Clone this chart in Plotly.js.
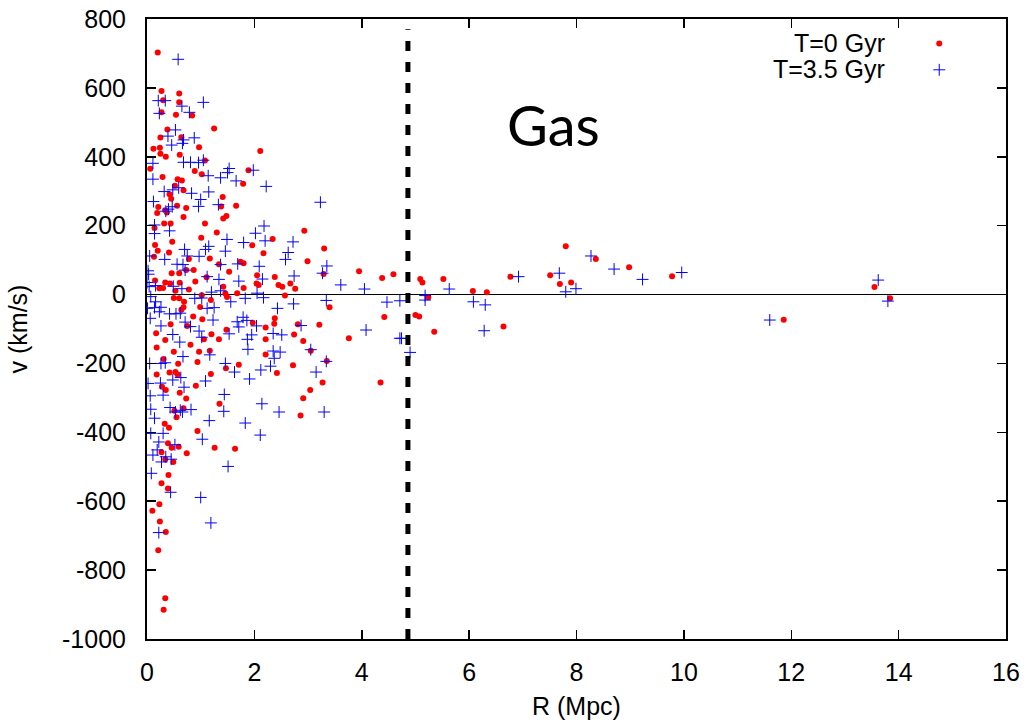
<!DOCTYPE html>
<html>
<head>
<meta charset="utf-8">
<script src="https://cdn.plot.ly/plotly-3.0.1.min.js"></script>
<style>html,body{margin:0;padding:0;background:#fff;}#chart{width:1030px;height:723px;}</style>
</head>
<body>
<div id="chart"></div>
<script>
// T=0 Gyr (red dots): radius R (Mpc) and velocity v (km/s)
const redR = [
0.20,0.27,0.60,0.30,0.60,0.27,0.54,0.84,1.25,0.38,0.25,0.64,0.97,0.12,0.24,2.11,0.25,0.35,0.61,1.08,
0.06,0.89,1.89,0.29,1.02,0.57,0.65,1.79,0.52,0.68,0.42,0.45,1.41,0.21,0.56,0.73,1.38,1.66,0.34,0.19,
0.37,0.68,1.48,1.42,
0.32,0.44,1.08,0.14,1.30,2.93,1.01,0.47,2.34,0.15,1.96,3.30,0.20,0.41,2.17,0.13,0.78,1.17,2.99,1.74,
1.80,1.34,0.87,0.46,0.60,0.73,1.53,2.05,0.15,0.34,0.43,0.61,0.90,1.11,2.38,2.04,2.08,2.45,2.52,2.67,
2.76,1.42,1.80,0.23,0.30,0.53,0.78,1.46,1.68,1.49,2.57,1.02,0.50,0.60,1.19,0.69,3.40,0.68,0.99,0.64,
0.86,1.03,2.38,1.97,0.44,0.75,2.37,2.81,3.21,2.21,1.48,0.17,1.20,2.74,0.34,1.06,1.34,2.21,2.91,0.81,
0.18,1.17,3.05,0.50,0.97,2.21,0.31,3.35,0.94,0.58,1.71,2.72,1.47,0.18,0.42,0.53,0.57,1.19,2.42,3.27,
0.91,0.28,0.35,3.04,0.61,0.73,2.91,1.35,0.51,0.68,2.86,0.55,
0.33,0.41,0.94,0.39,0.46,0.59,1.26,1.64,0.74,0.27,0.34,0.49,0.40,0.27,0.39,0.23,0.10,0.24,0.35,0.21,
0.34,0.31,
3.95,4.38,4.59,5.09,5.13,5.52,6.07,6.33,6.77,5.24,4.42,5.00,5.07,3.76,5.35,6.64,4.35,3.29,
7.51,7.80,7.69,7.90,8.36,8.98,9.78,
11.86,13.55,13.84
];
const redV = [
703,591,584,564,558,529,522,520,482,479,456,457,428,423,426,417,409,400,406,389,
365,359,361,341,349,335,331,322,316,303,291,278,283,254,258,251,256,258,245,237,
238,225,228,221,
206,206,206,193,180,185,165,153,161,144,143,134,127,122,120,110,103,105,97,95,
91,88,71,62,62,71,66,56,41,35,32,34,38,50,51,32,28,28,23,32,
17,23,19,18,19,11,15,3,4,-7,-3,-2,-10,-11,-16,-21,-37,-37,-36,-44,
-64,-72,-69,-82,-86,-91,-85,-86,-88,-96,-102,-112,-115,-116,-132,-130,-130,-130,-135,-146,
-154,-163,-163,-166,-166,-174,-187,-193,-196,-201,-204,-205,-214,-232,-226,-225,-232,-231,-228,-255,
-265,-268,-277,-277,-285,-302,-301,-317,-337,-330,-351,-356,
-375,-387,-396,-432,-445,-442,-445,-448,-461,-458,-478,-486,-524,-548,-563,-609,-628,-659,-689,-742,
-882,-915,
68,48,59,45,35,45,10,7,52,-8,-65,-59,-64,-127,-108,-93,-255,60,
56,140,31,35,103,79,53,
-73,22,-11
];
// T=3.5 Gyr (blue crosses)
const blueR = [
0.58,0.21,0.34,1.05,0.65,0.23,0.79,0.53,0.39,0.88,0.68,0.66,0.46,0.11,0.68,0.81,0.96,1.05,1.53,1.50,
1.98,0.11,1.14,1.37,1.66,2.22,0.32,0.48,0.59,0.83,1.15,0.12,1.00,3.23,0.47,0.96,1.33,0.40,0.35,
0.14,0.42,0.14,2.18,2.02,1.49,1.80,2.20,2.72,1.15,1.09,0.70,1.46,2.63,0.05,0.33,0.75,0.97,2.58,0.56,
0.67,1.37,1.69,3.35,0.02,0.71,2.09,3.27,0.03,1.12,1.34,2.74,1.71,2.15,0.00,0.16,0.04,0.49,0.65,1.37,
1.20,2.05,0.89,1.02,1.56,1.83,2.17,3.34,0.07,0.16,0.01,0.14,0.26,0.23,0.42,0.62,1.12,1.25,2.43,2.73,
0.06,0.54,1.23,1.68,1.79,2.04,1.86,0.71,0.26,0.81,1.71,0.97,2.87,0.48,1.02,1.53,1.95,2.35,2.51,1.87,
0.61,1.88,2.35,2.48,0.67,3.05,1.17,2.37,0.05,0.26,0.34,1.46,2.30,3.34,1.63,2.12,3.15,0.48,0.63,1.09,
1.91,0.02,0.25,0.69,0.30,0.06,1.44,2.14,0.07,0.43,0.62,0.82,1.43,2.46,3.30,0.14,
0.53,0.66,1.16,1.83,0.07,0.30,2.11,1.03,0.22,0.52,0.19,0.11,0.35,0.45,0.27,1.51,0.08,0.44,1.00,1.19,
0.22,
3.61,4.05,4.47,4.71,5.18,5.18,5.63,6.08,6.30,4.08,4.71,4.74,4.90,6.28,6.92,
7.68,7.80,7.99,8.27,8.70,9.23,9.96,
11.60,13.62,13.80
];
const blueV = [
683,563,563,558,547,526,529,478,460,455,449,439,434,381,384,384,383,390,366,354,
361,335,345,339,330,314,299,304,310,294,298,270,276,268,255,256,261,248,242,
202,185,177,199,178,160,151,156,153,140,131,131,126,122,112,102,112,111,102,88,
87,87,89,83,69,71,82,62,59,52,44,54,39,45,35,26,23,24,17,11,
7,4,-11,-10,-21,-11,-9,-17,-6,-21,-40,-38,-37,-50,-56,-54,-40,-38,-40,-27,
-69,-56,-74,-79,-66,-91,-75,-80,-91,-93,-94,-106,-90,-116,-124,-114,-117,-113,-117,-130,
-138,-159,-164,-167,-180,-160,-175,-185,-200,-200,-198,-200,-208,-194,-225,-219,-225,-248,-241,-251,
-245,-258,-257,-269,-292,-294,-290,-317,-333,-328,-336,-334,-339,-341,-341,-359,
-341,-341,-366,-373,-403,-403,-408,-420,-428,-436,-451,-466,-471,-478,-486,-499,-519,-574,-589,-663,
-691,
28,16,-22,-18,-3,-16,16,-21,-30,-103,-127,-127,-168,-105,52,
62,8,17,112,74,44,64,
-74,42,-19
];
const seriesNames = ['T=0 Gyr', 'T=3.5 Gyr'];
// vertical dashed divider position (Mpc) and its vertical extent (km/s)
const dividerR = [4.86, 4.86];
const dividerV = [-1000, 770];
const xTicks = [0, 2, 4, 6, 8, 10, 12, 14, 16];
const yTicks = [-1000, -800, -600, -400, -200, 0, 200, 400, 600, 800];
const panelLabel = 'Gas';

const baseFont = {family: '"Liberation Sans", Arial, Helvetica, sans-serif', size: 25, color: '#000'};

const traces = [
  {x: redR, y: redV, type: 'scatter', mode: 'markers', name: ' ',
   marker: {symbol: 'circle', size: 6, color: '#ff0000', line: {width: 0}}, cliponaxis: true},
  {x: blueR, y: blueV, type: 'scatter', mode: 'markers', name: ' ',
   marker: {symbol: 'cross-thin', size: 8.5, color: '#0000ff', line: {width: 1, color: '#0000ff'}}, cliponaxis: true},
  {x: dividerR, y: dividerV, type: 'scatter', mode: 'lines', showlegend: false, hoverinfo: 'skip',
   line: {color: '#000', width: 5, dash: '10px,11px'}}
];

const layout = {
  width: 1030, height: 723,
  margin: {l: 147, r: 24, t: 19, b: 84, pad: 0},
  paper_bgcolor: '#fff', plot_bgcolor: '#fff',
  font: baseFont,
  showlegend: true,
  legend: {x: 0.899, xanchor: 'left', y: 0.99, yanchor: 'top', bgcolor: 'rgba(0,0,0,0)',
           font: {family: baseFont.family, size: 18, color: '#000'}, tracegroupgap: 0, itemwidth: 30},
  xaxis: {
    range: [0, 16], tickvals: xTicks, ticktext: xTicks.map(String),
    showgrid: false, zeroline: false,
    showline: true, linecolor: '#000', linewidth: 2, mirror: 'ticks',
    ticks: 'inside', ticklen: 9, tickwidth: 1.5, tickcolor: '#000',
    ticklabelstandoff: 10,
    tickfont: baseFont,
    title: {text: 'R (Mpc)', font: baseFont, standoff: 12}
  },
  yaxis: {
    range: [-1000, 800], tickvals: yTicks, ticktext: yTicks.map(String),
    showgrid: false,
    zeroline: true, zerolinecolor: '#000', zerolinewidth: 1.5,
    showline: true, linecolor: '#000', linewidth: 2, mirror: 'ticks',
    ticks: 'inside', ticklen: 9, tickwidth: 1.5, tickcolor: '#000',
    ticklabelstandoff: 14,
    tickfont: baseFont,
    title: {text: 'v (km/s)', font: baseFont, standoff: 27}
  },
  annotations: [
    {xref: 'paper', yref: 'paper', x: 0.473, y: 0.83, xanchor: 'center', yanchor: 'middle',
     text: panelLabel, showarrow: false,
     font: {family: 'Lato, "Open Sans", sans-serif', size: 56, color: '#000'}},
    {xref: 'paper', yref: 'paper', x: 0.862, y: 0.962, xanchor: 'right', yanchor: 'middle',
     text: seriesNames[0], showarrow: false, font: baseFont},
    {xref: 'paper', yref: 'paper', x: 0.862, y: 0.92, xanchor: 'right', yanchor: 'middle',
     text: seriesNames[1], showarrow: false, font: baseFont}
  ]
};

Plotly.newPlot('chart', traces, layout, {displayModeBar: false, staticPlot: true});
</script>
</body>
</html>
